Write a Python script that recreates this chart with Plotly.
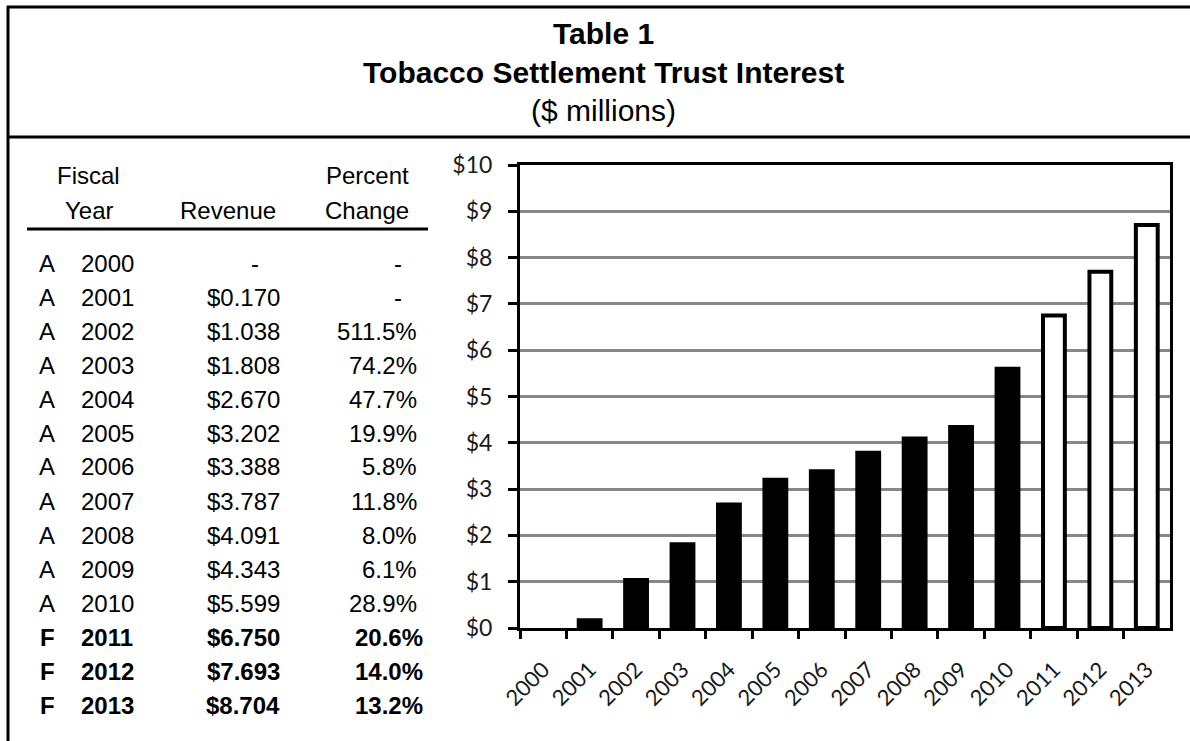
import plotly.graph_objects as go

W, H = 1190, 741

# ---- data ----
years = ["2000", "2001", "2002", "2003", "2004", "2005", "2006", "2007",
         "2008", "2009", "2010", "2011", "2012", "2013"]
status = ["A", "A", "A", "A", "A", "A", "A", "A", "A", "A", "A", "F", "F", "F"]
revenue = [None, 0.170, 1.038, 1.808, 2.670, 3.202, 3.388, 3.787,
           4.091, 4.343, 5.599, 6.750, 7.693, 8.704]
pct_change = [None, None, 511.5, 74.2, 47.7, 19.9, 5.8, 11.8,
              8.0, 6.1, 28.9, 20.6, 14.0, 13.2]
y_ticks = [0, 1, 2, 3, 4, 5, 6, 7, 8, 9, 10]
y_ticktext = ["$" + str(v) for v in y_ticks]


def px(x):
    return x / W


def py(y):
    return 1 - y / H


bar_colors = ["black" if s == "A" else "white" for s in status]

fig = go.Figure()
fig.add_trace(go.Bar(
    x=years, y=revenue,
    marker=dict(color=bar_colors, line=dict(color="black", width=4)),
    showlegend=False, hoverinfo="x+y",
))

AX_FONT = dict(family="Lato", size=23, color="#1a1a1a")

fig.update_layout(
    template="none",
    width=W, height=H,
    margin=dict(l=0, r=0, t=0, b=0, pad=0),
    paper_bgcolor="white", plot_bgcolor="white",
    bargap=0.53,
    font=dict(family="Lato", size=20, color="#1a1a1a"),
    xaxis=dict(
        domain=[px(520), px(1170)], automargin=False,
        type="category", tickangle=-45,
        ticks="outside", tickson="boundaries", ticklen=8, tickwidth=3, tickcolor="black",
        showline=True, linewidth=3, linecolor="black", mirror=True,
        showgrid=False, zeroline=False,
        tickfont=dict(family="Lato", size=22, color="#1a1a1a"), ticklabelstandoff=17,
    ),
    yaxis=dict(
        domain=[py(628), py(165)], automargin=False,
        range=[0, 10], tickmode="array", tickvals=y_ticks, ticktext=y_ticktext,
        ticks="outside", ticklen=9, tickwidth=3, tickcolor="black",
        showline=True, linewidth=3, linecolor="black", mirror=True,
        showgrid=True, gridcolor="#878787", gridwidth=3, zeroline=False,
        tickfont=AX_FONT, ticklabelstandoff=11,
    ),
)

shapes = []
line = dict(color="black", width=3)
shapes.append(dict(type="line", xref="paper", yref="paper", x0=px(7), x1=1, y0=py(7), y1=py(7), line=line))
shapes.append(dict(type="line", xref="paper", yref="paper", x0=px(7), x1=1, y0=py(137), y1=py(137), line=line))
shapes.append(dict(type="line", xref="paper", yref="paper", x0=px(8), x1=px(8), y0=py(6), y1=0, line=line))
shapes.append(dict(type="line", xref="paper", yref="paper", x0=px(27), x1=px(428), y0=py(229), y1=py(229), line=line))
fig.update_layout(shapes=shapes)

ann = []
TF = "Liberation Sans, Arial"


def txt(x, y, s, size=24, xanchor="center", bold=False):
    if bold:
        s = "<b>" + s + "</b>"
    ann.append(dict(x=px(x), y=py(y), xref="paper", yref="paper", text=s, showarrow=False,
                    xanchor=xanchor, yanchor="middle",
                    font=dict(family=TF, size=size, color="black")))


# Title
txt(603, 34, "Table 1", size=30, bold=True)
txt(603, 72, "Tobacco Settlement Trust Interest", size=30, bold=True)
txt(603, 111, "($ millions)", size=30)

# Header
txt(88, 175, "Fiscal")
txt(89, 210, "Year")
txt(228, 210, "Revenue")
txt(367, 175, "Percent")
txt(367, 210, "Change")

# Rows
for i, yr in enumerate(years):
    yy = 263 + i * 34.0
    b = status[i] == "F"
    txt(47, yy, status[i], bold=b)
    txt(79, yy, yr, xanchor="left", bold=b)
    if revenue[i] is None:
        txt(255, yy, "-")
    else:
        txt(282, yy, f"${revenue[i]:.3f}", xanchor="right", bold=b)
    if pct_change[i] is None:
        txt(398, yy, "-")
    else:
        txt(425 if b else 419, yy, f"{pct_change[i]:.1f}%", xanchor="right", bold=b)

fig.update_layout(annotations=ann)

fig.write_html("out.html")
